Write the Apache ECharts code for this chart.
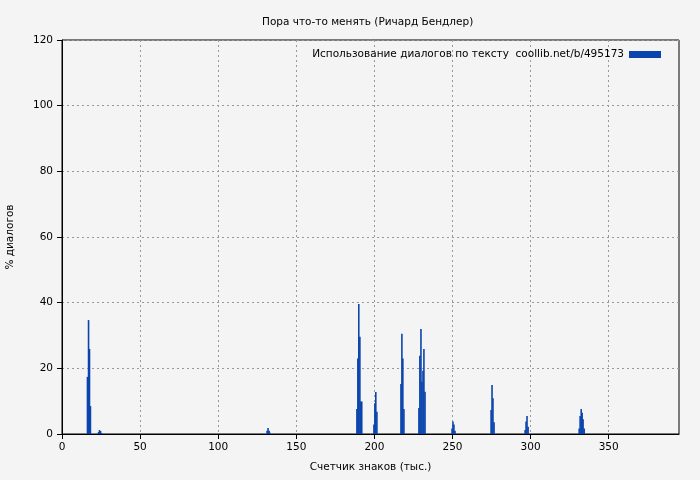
<!DOCTYPE html>
<html><head><meta charset="utf-8">
<script src="https://cdn.jsdelivr.net/npm/echarts@6/dist/echarts.min.js"></script>
<style>html,body{margin:0;padding:0;background:#f4f4f4;}#c{width:700px;height:480px;}</style>
</head><body><div id="c"></div>
<script>
const titleText = 'Пора что-то менять (Ричард Бендлер)';
const legendName = 'Использование диалогов по тексту  coollib.net/b/495173';
const xName = 'Счетчик знаков (тыс.)';
const yName = '% диалогов';
const xPositions = [16.3,17.0,17.6,18.2, 23.4,24.0,24.7,25.3, 131.3,131.9,132.6,133.2,
  188.8,189.4,190.0,190.7,191.3,191.9, 199.7,200.3,200.9,201.6,
  217.0,217.6,218.2,218.9, 228.5,229.1,229.8,230.4,231.1,231.7,232.4,
  249.7,250.3,250.9,251.6, 274.7,275.3,275.9,276.6, 296.5,297.1,297.7,298.4,
  331.1,331.7,332.4,333.0,333.6,334.3];
const values = [17.4,34.7,25.9,8.5, 0.6,1.2,0.9,0.3, 1.0,1.8,1.0,0.4,
  7.6,23.0,39.6,29.6,9.9,9.9, 2.9,9.4,12.8,6.8,
  15.2,30.5,23.0,7.6, 7.9,23.8,32.0,15.9,19.3,25.9,12.9,
  1.7,3.8,2.9,1.0, 7.3,14.9,10.9,3.6, 1.2,3.8,5.5,2.2,
  1.7,5.5,7.6,6.5,4.5,1.7];
const xTicks = [0,50,100,150,200,250,300,350];
const yTicks = [0,20,40,60,80,100,120];

const chart = echarts.init(document.getElementById('c'), null, {renderer:'canvas'});
const font = 'DejaVu Sans';
chart.setOption({
  backgroundColor:'#f4f4f4',
  animation:false,
  title:{text:titleText,left:257,top:12,textStyle:{fontFamily:font,fontSize:10.5,fontWeight:'normal',color:'#000'}},
  legend:{data:[legendName],right:34,top:44,align:'right',itemWidth:32,itemHeight:7,itemGap:8,
    icon:'rect',textStyle:{fontFamily:font,fontSize:10.5,color:'#000'}},
  grid:{left:62,right:21,top:40,bottom:46,show:true,borderColor:'#000',borderWidth:1,backgroundColor:'transparent',
    outerBoundsMode:'none',containLabel:false},
  xAxis:{type:'value',min:0,max:395,interval:50,
    name:xName,nameLocation:'middle',nameGap:28,nameTextStyle:{fontFamily:font,fontSize:10.5,color:'#000'},
    axisLine:{show:true,lineStyle:{color:'#000'}},
    axisTick:{show:true,length:5,customValues:xTicks,lineStyle:{color:'#000'}},
    axisLabel:{fontFamily:font,fontSize:10.5,color:'#000',margin:8,customValues:xTicks},
    splitLine:{show:true,lineStyle:{color:'#999',type:[2,3]}}},
  yAxis:{type:'value',min:0,max:120,interval:20,
    name:yName,nameLocation:'middle',nameGap:46,nameRotate:90,nameTextStyle:{fontFamily:font,fontSize:10.5,color:'#000'},
    axisLine:{show:true,lineStyle:{color:'#000'}},axisTick:{show:true,length:5,lineStyle:{color:'#000'}},
    axisLabel:{fontFamily:font,fontSize:10.5,color:'#000',margin:9,
      formatter:v=>yTicks.indexOf(v)>=0?String(v):''},
    splitLine:{show:true,lineStyle:{color:'#999',type:[2,3]}}},
  series:[{name:legendName,type:'bar',barWidth:1.6,itemStyle:{color:'#0a45ad'},
    data:xPositions.map((x,i)=>[x,values[i]])}]
});
</script></body></html>
